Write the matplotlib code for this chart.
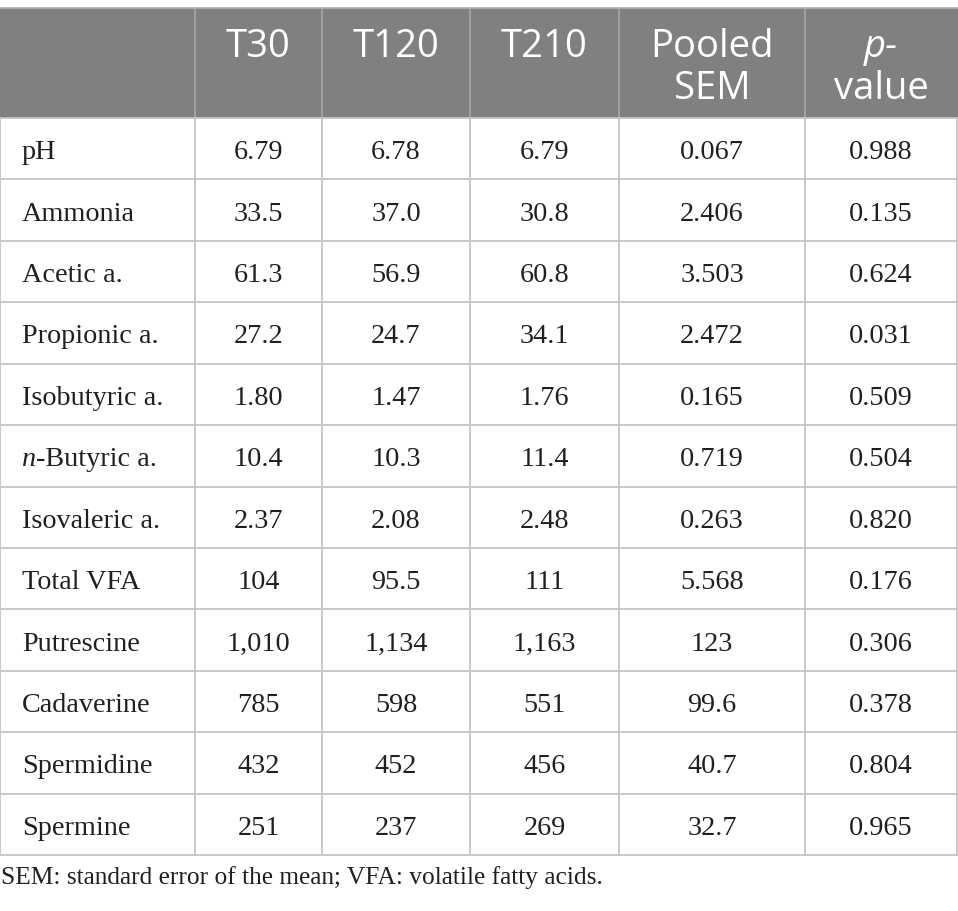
import matplotlib.pyplot as plt
from matplotlib.patches import Rectangle

# table content
columns = ["", "T30", "T120", "T210", "Pooled\nSEM", "p-\nvalue"]
rows = ["pH", "Ammonia", "Acetic a.", "Propionic a.", "Isobutyric a.", "n-Butyric a.",
        "Isovaleric a.", "Total VFA", "Putrescine", "Cadaverine", "Spermidine", "Spermine"]
t30 = ["6.79", "33.5", "61.3", "27.2", "1.80", "10.4", "2.37", "104", "1,010", "785", "432", "251"]
t120 = ["6.78", "37.0", "56.9", "24.7", "1.47", "10.3", "2.08", "95.5", "1,134", "598", "452", "237"]
t210 = ["6.79", "30.8", "60.8", "34.1", "1.76", "11.4", "2.48", "111", "1,163", "551", "456", "269"]
sem = ["0.067", "2.406", "3.503", "2.472", "0.165", "0.719", "0.263", "5.568", "123", "99.6", "40.7", "32.7"]
pval = ["0.988", "0.135", "0.624", "0.031", "0.509", "0.504", "0.820", "0.176", "0.306", "0.378", "0.804", "0.965"]
footnote = "SEM: standard error of the mean; VFA: volatile fatty acids."

W, H = 958, 911
col_edges = [0, 195, 322, 470, 619, 805, 957]
top, head_bot, bottom = 8, 118, 855
row_h = (bottom - head_bot) / len(rows)

head_font = "Open Sans"
body_font = "Liberation Serif"
ink = "#231f20"
grid = "#c4c4c4"
bsize = 20.3

fig = plt.figure(figsize=(W / 100, H / 100), dpi=100)
ax = fig.add_axes([0, 0, 1, 1])
ax.set_xlim(0, W)
ax.set_ylim(H, 0)
ax.axis("off")

# header block
ax.add_patch(Rectangle((0, top), W, head_bot - top, facecolor="#7f807f", edgecolor="none"))
for x in col_edges[1:-1]:
    ax.plot([x, x], [top, head_bot], color="#a8a8a8", lw=1.2)
ax.plot([0, W], [top, top], color="#b0b0b0", lw=1.2)

for i, label in enumerate(columns[1:], start=1):
    cx = (col_edges[i] + col_edges[i + 1]) / 2
    for j, line in enumerate(label.split("\n")):
        style = "italic" if line == "p-" else "normal"
        ax.text(cx, 57 + j * 42, line, ha="center", va="baseline", color="white",
                fontsize=27.5, family=head_font, fontstyle=style)

# body grid
for k in range(len(rows) + 1):
    y = head_bot + k * row_h
    ax.plot([0, W], [y, y], color=grid, lw=1.3)
for x in col_edges:
    ax.plot([x, x], [head_bot, bottom], color=grid, lw=1.3)

renderer = fig.canvas.get_renderer()
values = [t30, t120, t210, sem, pval]
for r, name in enumerate(rows):
    by = head_bot + (r + 0.5) * row_h + 10.5
    if name.startswith("n-"):
        t = ax.text(22, by, "n", ha="left", va="baseline", fontsize=bsize,
                    family=body_font, fontstyle="italic", color=ink)
        bb = t.get_window_extent(renderer)
        ax.text(22 + bb.width, by, name[1:], ha="left", va="baseline", fontsize=bsize,
                family=body_font, color=ink)
    else:
        ax.text(22, by, name, ha="left", va="baseline", fontsize=bsize,
                family=body_font, color=ink)
    for c, col in enumerate(values, start=1):
        cx = (col_edges[c] + col_edges[c + 1]) / 2
        ax.text(cx, by, col[r], ha="center", va="baseline", fontsize=bsize,
                family=body_font, color=ink)

ax.text(1, 884, footnote, ha="left", va="baseline", fontsize=18.3, family=body_font, color=ink)

plt.savefig("out.png", dpi=100)
